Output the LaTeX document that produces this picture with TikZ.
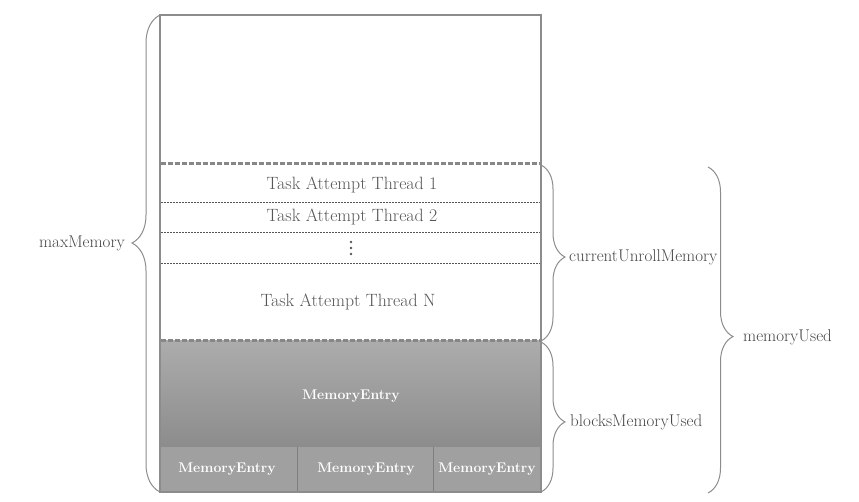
\documentclass[tikz,border=0pt]{standalone}
\usetikzlibrary{decorations.pathreplacing}
\definecolor{edge}{RGB}{140,140,140}
\definecolor{txt}{RGB}{85,85,85}
\definecolor{lbl}{RGB}{70,70,70}
\definecolor{memtop}{RGB}{172,172,172}
\definecolor{memmid}{RGB}{140,140,140}
\definecolor{membot}{RGB}{160,160,160}
\definecolor{sep}{RGB}{135,135,135}
\tikzset{
  bracestyle/.style={draw=edge, line width=1pt, decorate},
  tasktext/.style={text=txt, font=\fontsize{17.8}{20}\selectfont, inner sep=0pt},
  labeltext/.style={text=lbl, font=\fontsize{17}{20}\selectfont, inner sep=0pt},
  memtext/.style={text=white, font=\fontsize{14}{16}\selectfont\bfseries, inner sep=0pt},
  thickdash/.style={draw=sep, line width=3pt, dash pattern=on 5pt off 2pt},
  thindash/.style={draw=txt, line width=0.7pt, dash pattern=on 2pt off 1pt},
  dotmark/.style={fill=txt, draw=none, circle, inner sep=0pt, minimum size=2.6pt},
}
\begin{document}
\begin{tikzpicture}[x=1pt,y=-1pt]
\useasboundingbox (0,0) rectangle (859,502);
% grey MemoryEntry region
\shade[top color=memtop, bottom color=memmid] (160,341) rectangle (541,447);
\fill[membot] (160,447) rectangle (541,492);
\draw[edge!90!black, line width=0.6pt] (297,447) -- (297,492);
\draw[edge!90!black, line width=0.6pt] (433,447) -- (433,492);
% outer rectangle
\draw[edge, line width=1.4pt] (160,15) rectangle (541,492);
% separators
\draw[thickdash] (161,164) -- (540,164);
\draw[thickdash] (161,341) -- (540,341);
\draw[thindash] (161,202) -- (540,202);
\draw[thindash] (161,232) -- (540,232);
\draw[thindash] (161,263) -- (540,263);
% texts
\node[tasktext] (t1) at (352,185) {Task Attempt Thread 1};
\node[tasktext] (t2) at (352,217) {Task Attempt Thread 2};
\node[dotmark] (d1) at (351,242) {};
\node[dotmark] (d2) at (351,248) {};
\node[dotmark] (d3) at (351,254) {};
\node[tasktext] (tn) at (348,302) {Task Attempt Thread N};
\node[memtext] (m0) at (351,396) {MemoryEntry};
\node[memtext] (m1) at (227,469) {MemoryEntry};
\node[memtext] (m2) at (366,469) {MemoryEntry};
\node[memtext] (m3) at (487,469) {MemoryEntry};
% braces
\coordinate (maxB) at (160,492);
\coordinate (maxT) at (160,15);
\coordinate (cuT) at (541,165);
\coordinate (cuB) at (541,341);
\coordinate (bmT) at (541,342);
\coordinate (bmB) at (541,492);
\coordinate (muT) at (708,167);
\coordinate (muB) at (708,493);
\draw[bracestyle, decoration={brace, amplitude=28pt, aspect=0.522}] (maxB) -- (maxT);
\draw[bracestyle, decoration={brace, amplitude=24pt, aspect=0.523}] (cuT) -- (cuB);
\draw[bracestyle, decoration={brace, amplitude=24pt, aspect=0.533}] (bmT) -- (bmB);
\draw[bracestyle, decoration={brace, amplitude=25pt, aspect=0.52}] (muT) -- (muB);
% labels
\node[labeltext, anchor=east] (maxm) at (125,243) {maxMemory};
\node[labeltext, anchor=west] (cum) at (569,257) {currentUnrollMemory};
\node[labeltext, anchor=west] (bmu) at (570,422) {blocksMemoryUsed};
\node[labeltext, anchor=west] (mu) at (743,337) {memoryUsed};
\end{tikzpicture}
\end{document}
